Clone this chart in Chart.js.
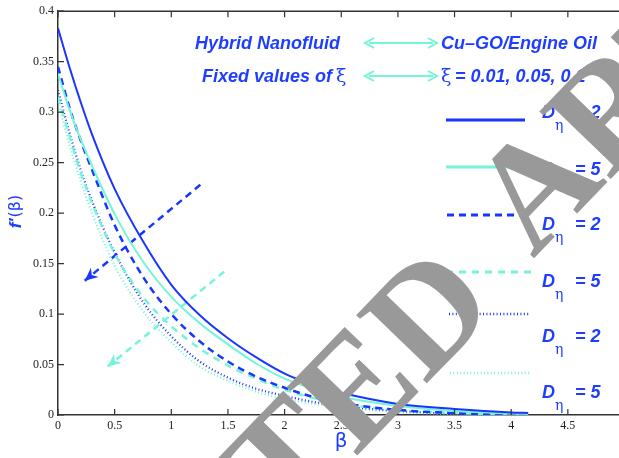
<!DOCTYPE html>
<html><head><meta charset="utf-8">
<script src="https://cdn.jsdelivr.net/npm/chart.js@4.4.0/dist/chart.umd.min.js"></script>
<style>
html,body{margin:0;padding:0;background:#fff;overflow:hidden;width:619px;height:458px;}
#wrap{width:640px;height:458px;position:relative;}
canvas{display:block;}
</style></head><body><div id="wrap"><canvas id="c" width="640" height="458"></canvas></div>
<script>
// ---- data ----
const beta = [0,0.1,0.2,0.3,0.5,0.75,1,1.25,1.5,1.75,2,2.25,2.5,3,3.5,4,4.15];
const blueSolid  = [0.383,0.345,0.310,0.278,0.224,0.172,0.129,0.099,0.076,0.057,0.041,0.030,0.022,0.011,0.006,0.0025,0.002];
const cyanSolid  = [0.338,0.303,0.273,0.247,0.199,0.152,0.117,0.091,0.070,0.051,0.036,0.026,0.018,0.009,0.004,0.0015,0.001];
const blueDashed = [0.345,0.305,0.272,0.243,0.188,0.137,0.100,0.073,0.053,0.038,0.027,0.018,0.012,0.005,0.002,0.0006,0.0004];
const cyanDashed = [0.315,0.277,0.240,0.210,0.160,0.117,0.088,0.066,0.049,0.036,0.025,0.017,0.011,0.005,0.002,0.0006,0.0004];
const blueDotted = [0.322,0.280,0.243,0.212,0.161,0.112,0.078,0.053,0.037,0.026,0.019,0.013,0.009,0.004,0.0015,0.0005,0.0003];
const cyanDotted = [0.310,0.268,0.232,0.200,0.148,0.103,0.072,0.048,0.034,0.023,0.016,0.011,0.008,0.003,0.001,0.0004,0.0002];
const legendLabels = ['2','5','2','5','2','5'];
// arrows (start point -> tip), in data units
const blueArrow = [[1.256,0.228],[0.236,0.133]];
const cyanArrow = [[1.467,0.142],[0.439,0.048]];
const xTicks = [0,0.5,1,1.5,2,2.5,3,3.5,4,4.5,5];
const yTicks = [0,0.05,0.1,0.15,0.2,0.25,0.3,0.35,0.4];
const xTickLabels = ['0','0.5','1','1.5','2','2.5','3','3.5','4','4.5','5'];
const yTickLabels = ['0','0.05','0.1','0.15','0.2','0.25','0.3','0.35','0.4'];

const BLUE = '#1a35ff', CYAN = '#74f4d8', TXT = '#1f3dff', AX = '#333333';
const pts = arr => beta.map((b,i)=>({x:b,y:arr[i]}));
const apts = a => a.map(p=>({x:p[0],y:p[1]}));

const styles = [
  {c:BLUE, w:2,   d:[]},
  {c:CYAN, w:2,   d:[]},
  {c:BLUE, w:2.5, d:[7,5]},
  {c:CYAN, w:2.5, d:[7,6]},
  {c:BLUE, w:2.2, d:[1,2.4]},
  {c:CYAN, w:2.2, d:[1,2.4]}
];
const series = [blueSolid,cyanSolid,blueDashed,cyanDashed,blueDotted,cyanDotted];
const datasets = series.map((s,i)=>({
  data: pts(s), borderColor: styles[i].c, borderWidth: styles[i].w, borderDash: styles[i].d,
  pointRadius:0, fill:false, cubicInterpolationMode:'monotone'
}));
datasets.push({data:apts(blueArrow),borderColor:BLUE,borderWidth:2.5,borderDash:[7,5],pointRadius:0,fill:false});
datasets.push({data:apts(cyanArrow),borderColor:CYAN,borderWidth:2.5,borderDash:[7,5],pointRadius:0,fill:false});

function arrowHead(ctx, x0,y0,x1,y1,len,half,color){
  const ang=Math.atan2(y1-y0,x1-x0);
  ctx.save(); ctx.translate(x1,y1); ctx.rotate(ang);
  ctx.fillStyle=color; ctx.beginPath(); ctx.moveTo(0,0); ctx.lineTo(-len,-half); ctx.lineTo(-len*0.7,0); ctx.lineTo(-len,half); ctx.closePath(); ctx.fill();
  ctx.restore();
}
function dblArrow(ctx,x0,x1,y,color){
  ctx.save(); ctx.strokeStyle=color; ctx.lineWidth=2; ctx.setLineDash([]);
  ctx.beginPath(); ctx.moveTo(x0+4,y); ctx.lineTo(x1-4,y); ctx.stroke();
  ctx.beginPath(); ctx.moveTo(x0+9,y-5); ctx.lineTo(x0,y); ctx.lineTo(x0+9,y+5); ctx.stroke();
  ctx.beginPath(); ctx.moveTo(x1-9,y-5); ctx.lineTo(x1,y); ctx.lineTo(x1-9,y+5); ctx.stroke();
  ctx.restore();
}

const deco = {
  id:'deco',
  afterDraw(chart){
    const {ctx, chartArea:a, scales:{x,y}} = chart;
    ctx.save();
    // top axis line and inward ticks
    ctx.strokeStyle=AX; ctx.lineWidth=1.5; ctx.setLineDash([]);
    ctx.beginPath(); ctx.moveTo(a.left,a.top); ctx.lineTo(a.right,a.top); ctx.stroke();
    ctx.lineWidth=1.2; ctx.beginPath();
    xTicks.forEach(v=>{const p=x.getPixelForValue(v); ctx.moveTo(p,a.bottom); ctx.lineTo(p,a.bottom-6); ctx.moveTo(p,a.top); ctx.lineTo(p,a.top+6);});
    yTicks.forEach(v=>{const p=y.getPixelForValue(v); ctx.moveTo(a.left,p); ctx.lineTo(a.left+6,p);});
    ctx.stroke();

    // arrowheads for the trend arrows
    [[blueArrow,BLUE],[cyanArrow,CYAN]].forEach(([ar,col])=>{
      const x0=x.getPixelForValue(ar[0][0]), y0=y.getPixelForValue(ar[0][1]);
      const x1=x.getPixelForValue(ar[1][0]), y1=y.getPixelForValue(ar[1][1]);
      arrowHead(ctx,x0,y0,x1,y1,13,6,col);
    });

    // header annotations
    ctx.fillStyle=TXT; ctx.textBaseline='alphabetic'; ctx.textAlign='left';
    ctx.font='bold italic 18px "Liberation Sans", Arial, sans-serif';
    ctx.fillText('Hybrid Nanofluid',195,49);
    ctx.fillText('Cu\u2013GO/Engine Oil',441,49);
    ctx.fillText('Fixed values of',202,82);
    ctx.font='19px "DejaVu Serif", serif';
    ctx.fillText('\u03BE',336,82);
    ctx.fillText('\u03BE',441,82);
    ctx.font='bold italic 18px "Liberation Sans", Arial, sans-serif';
    ctx.fillText('= 0.01, 0.05, 0.1',455,82);
    dblArrow(ctx,365,437,43,CYAN);
    dblArrow(ctx,365,437,76,CYAN);

    // legend
    const lineY=[120,167,215,272,314,373];
    const lineX=[[446,525],[446,525],[447,525],[446,532],[449,529],[450,530]];
    const labY=[113,170,225,282,337,393];
    for(let i=0;i<6;i++){
      ctx.save(); ctx.strokeStyle=styles[i].c; ctx.lineWidth=(i<4?3:2.5); ctx.setLineDash(styles[i].d);
      ctx.beginPath(); ctx.moveTo(lineX[i][0],lineY[i]); ctx.lineTo(lineX[i][1],lineY[i]); ctx.stroke(); ctx.restore();
      ctx.fillStyle=TXT; ctx.textBaseline='middle';
      ctx.font='bold italic 18px "Liberation Sans", Arial, sans-serif';
      ctx.fillText('D',542,labY[i]);
      ctx.fillText('= '+legendLabels[i],575,labY[i]);
      ctx.font='14px "DejaVu Serif", serif';
      ctx.fillText('\u03B7',555,labY[i]+13);
    }

    // axis titles
    ctx.fillStyle=TXT; ctx.textBaseline='middle';
    ctx.font='20px "DejaVu Sans", sans-serif'; ctx.textAlign='center';
    ctx.fillText('\u03B2',(a.left+a.right)/2,442);
    ctx.save(); ctx.translate(16,212); ctx.rotate(-Math.PI/2);
    ctx.textAlign='left';
    ctx.font='bold italic 17px "Liberation Sans", Arial, sans-serif';
    const w1=ctx.measureText('f\u2032').width;
    ctx.font='16px "DejaVu Sans", sans-serif';
    const w2=ctx.measureText('(\u03B2)').width;
    let sx=-(w1+w2)/2;
    ctx.font='bold italic 17px "Liberation Sans", Arial, sans-serif';
    ctx.fillText('f\u2032',sx,0);
    ctx.font='16px "DejaVu Sans", sans-serif';
    ctx.fillText('(\u03B2)',sx+w1+1,0);
    ctx.restore();

    // watermark
    ctx.save();
    ctx.fillStyle='#999999'; ctx.textBaseline='alphabetic'; ctx.textAlign='left';
    const FS=150;
    ctx.font='bold '+FS+'px "Liberation Serif", "Times New Roman", serif';
    const th=-46*Math.PI/180;
    const capH=0.66*FS;
    const up=[Math.sin(th),-Math.cos(th)];
    // word 1 anchored at centre of its final "D"
    let cx=427, cy=312;
    ctx.save(); ctx.translate(cx-up[0]*capH/2, cy-up[1]*capH/2); ctx.rotate(th);
    const wA=ctx.measureText('ACCEPTE').width, wD=ctx.measureText('D').width;
    ctx.fillText('ACCEPTED',-(wA+wD/2),0); ctx.restore();
    // word 2 anchored at centre of its first "A"
    cx=535; cy=186;
    ctx.save(); ctx.translate(cx-up[0]*capH/2, cy-up[1]*capH/2); ctx.rotate(th);
    const wA2=ctx.measureText('A').width;
    ctx.fillText('ARTICLE',-wA2/2,0); ctx.restore();
    ctx.restore();

    ctx.restore();
  }
};

new Chart(document.getElementById('c'),{
  type:'line',
  data:{datasets},
  options:{
    responsive:false, animation:false, devicePixelRatio:1,
    layout:{padding:{top:11,right:15.5,left:0,bottom:0}},
    plugins:{legend:{display:false},tooltip:{enabled:false},title:{display:false}},
    scales:{
      x:{type:'linear',min:0,max:5,
        afterFit:s=>{s.height=43;},
        afterBuildTicks:s=>{s.ticks=xTicks.map(v=>({value:v}));},
        ticks:{color:'#222',padding:4,maxRotation:0,autoSkip:false,
          font:{family:'"Liberation Serif", "Times New Roman", serif',size:12},
          callback:(v)=>{const i=xTicks.indexOf(v);return i>=0?xTickLabels[i]:'';}},
        grid:{display:false,drawTicks:false},
        border:{display:true,color:AX,width:1.5}},
      y:{type:'linear',min:0,max:0.4,
        afterFit:s=>{s.width=58;},
        afterBuildTicks:s=>{s.ticks=yTicks.map(v=>({value:v}));},
        ticks:{color:'#222',padding:4,autoSkip:false,
          font:{family:'"Liberation Serif", "Times New Roman", serif',size:12},
          callback:(v)=>{const i=yTicks.findIndex(t=>Math.abs(t-v)<1e-9);return i>=0?yTickLabels[i]:'';}},
        grid:{display:false,drawTicks:false},
        border:{display:true,color:AX,width:1.5}}
    }
  },
  plugins:[deco]
});
</script></body></html>
